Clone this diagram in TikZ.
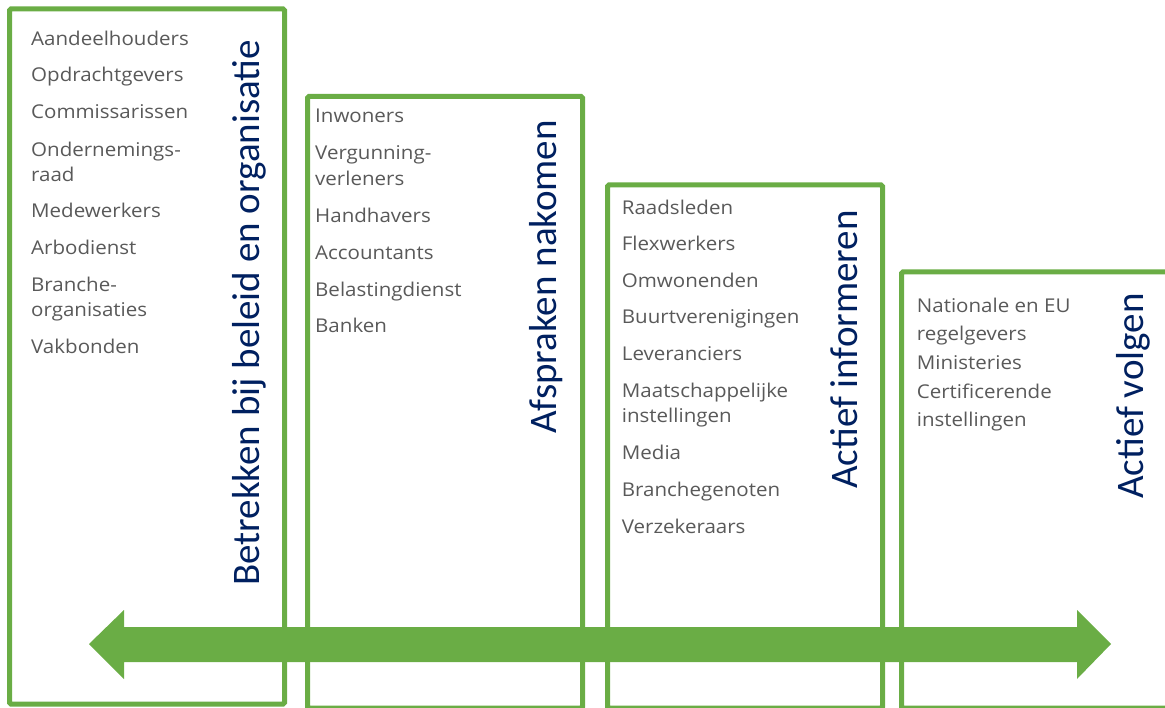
\documentclass[tikz,border=0pt]{standalone}
\usepackage{fontspec}
\setmainfont{Carlito}
\newfontfamily\listfont[FakeStretch=1.08]{Open Sans}
\definecolor{boxgreen}{RGB}{106,173,69}
\definecolor{titleblue}{RGB}{0,32,96}
\definecolor{listgray}{RGB}{89,89,89}
\begin{document}
\begin{tikzpicture}[x=1pt,y=-1pt,
  stagebox/.style={draw=boxgreen, line width=5pt, rounded corners=1.5pt},
  item/.style={anchor=base west, inner sep=0pt, font=\listfont\fontsize{19}{23}\selectfont, text=listgray},
  stagetitle/.style={anchor=base west, inner sep=0pt, rotate=90, font=\fontsize{39}{47}\selectfont, text=titleblue},
  bigarrow/.style={fill=boxgreen, draw=none}]
\useasboundingbox (0,0) rectangle (1165,708);
\clip (0,0) rectangle (1165,708);
% boxes
\draw[stagebox] (9.5,9) rectangle (284.5,704);
\draw[stagebox] (307.5,96.5) rectangle (582.5,708);
\draw[stagebox] (607.5,185) rectangle (882.5,708);
\draw[stagebox] (901.5,272) rectangle (1180,708);
% box 1 items
\node[item] (a1) at (31,45.7) {Aandeelhouders};
\node[item] (a2) at (31,82) {Opdrachtgevers};
\node[item] (a3) at (31,119) {Commissarissen};
\node[item] (a4) at (31,156.7) {Ondernemings-};
\node[item] (a5) at (31,181.7) {raad};
\node[item] (a6) at (31,218) {Medewerkers};
\node[item] (a7) at (31,255) {Arbodienst};
\node[item] (a8) at (31,292) {Branche-};
\node[item] (a9) at (31,317) {organisaties};
\node[item] (a10) at (31,354) {Vakbonden};
% box 2 items
\node[item] (b1) at (315,122.7) {Inwoners};
\node[item] (b2) at (315,160) {Vergunning-};
\node[item] (b3) at (315,185.3) {verleners};
\node[item] (b4) at (315,222.7) {Handhavers};
\node[item] (b5) at (315,260) {Accountants};
\node[item] (b6) at (315,296.7) {Belastingdienst};
\node[item] (b7) at (315,332.3) {Banken};
% box 3 items
\node[item] (c1) at (621.7,214.3) {Raadsleden};
\node[item] (c2) at (621.7,251) {Flexwerkers};
\node[item] (c3) at (621.7,287.3) {Omwonenden};
\node[item] (c4) at (621.7,324) {Buurtverenigingen};
\node[item] (c5) at (621.7,360.7) {Leveranciers};
\node[item] (c6) at (621.7,397.3) {Maatschappelijke};
\node[item] (c7) at (621.7,422.3) {instellingen};
\node[item] (c8) at (621.7,459.3) {Media};
\node[item] (c9) at (621.7,496.7) {Branchegenoten};
\node[item] (c10) at (621.7,533.3) {Verzekeraars};
% box 4 items
\node[item] (d1) at (916.7,312.3) {Nationale en EU};
\node[item] (d2) at (916.7,341) {regelgevers};
\node[item] (d3) at (916.7,369.3) {Ministeries};
\node[item] (d4) at (916.7,398.3) {Certificerende};
\node[item] (d5) at (916.7,426.7) {instellingen};
% titles
\node[stagetitle] (t1) at (259,586) {Betrekken bij beleid en organisatie};
\node[stagetitle] (t2) at (556,434) {Afspraken nakomen};
\node[stagetitle] (t3) at (857,489) {Actief informeren};
\node[stagetitle] (t4) at (1143,499) {Actief volgen};
% double arrow
\coordinate (lt) at (89,644);
\coordinate (rt) at (1111,644);
\fill[bigarrow] (lt) -- (124,610) -- (124,627) -- (1077,627) -- (1077,610) -- (rt)
  -- (1077,679) -- (1077,662) -- (124,662) -- (124,679) -- cycle;
\end{tikzpicture}
\end{document}
